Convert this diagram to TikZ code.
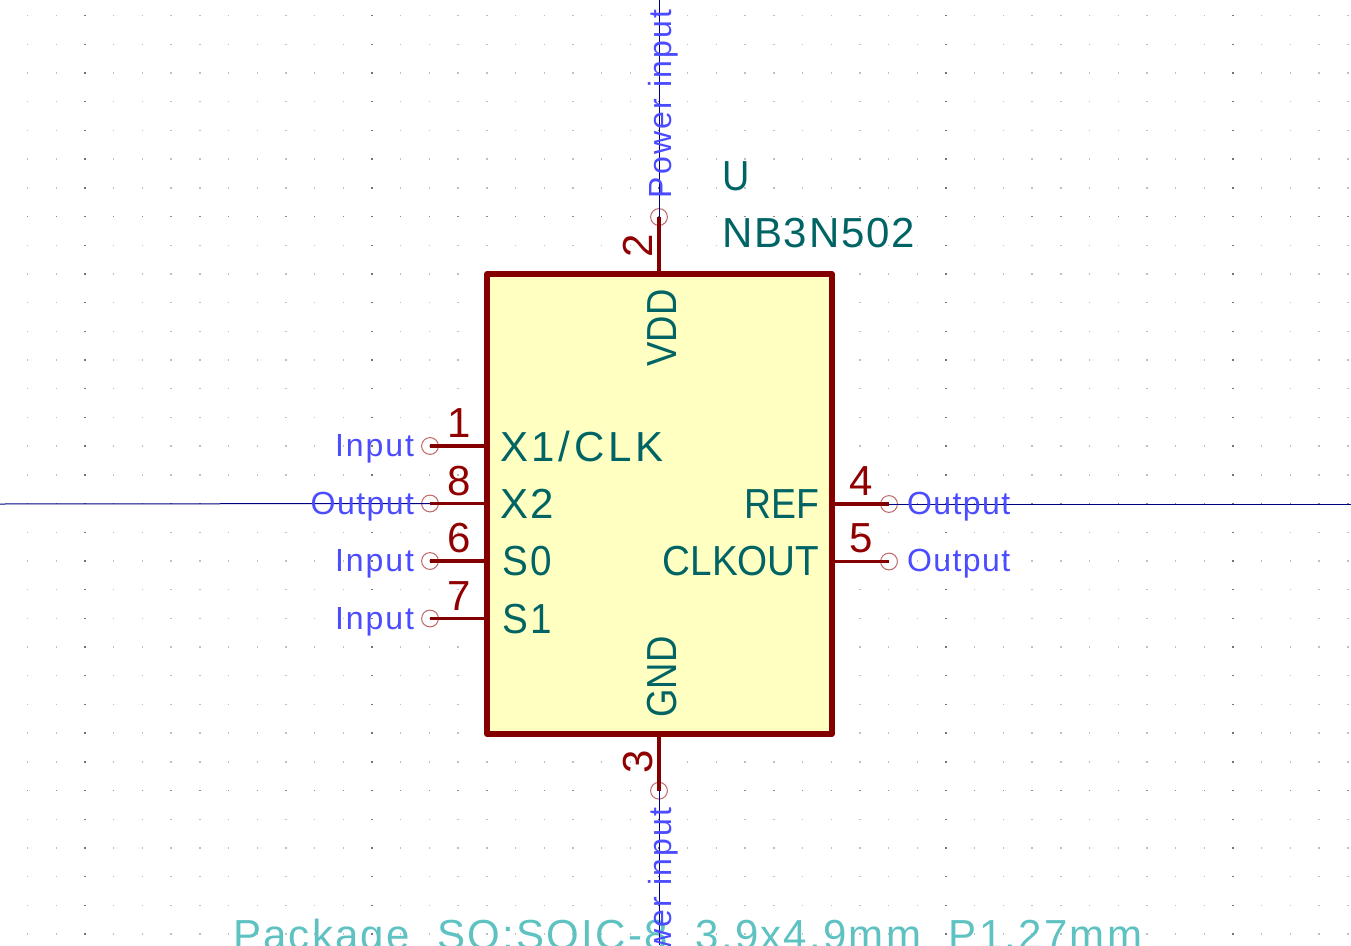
\documentclass[tikz,border=0pt]{standalone}
\usepackage{fontspec}
\setmainfont{Liberation Sans}
\newcommand{\ls}[1]{\addfontfeature{LetterSpace=#1}}
\newcommand{\sls}[2]{\addfontfeature{FakeStretch=#1,LetterSpace=#2}}
\definecolor{pinred}{HTML}{900000}
\definecolor{bodyred}{HTML}{840000}
\definecolor{bodyfill}{HTML}{FFFFC2}
\definecolor{teal}{HTML}{006464}
\definecolor{fptext}{HTML}{5FC2C2}
\definecolor{typeblue}{HTML}{4B4BFF}
\definecolor{wireblue}{HTML}{000084}
\definecolor{endred}{HTML}{C06868}
\tikzset{
  txt/.style={inner sep=0pt,outer sep=0pt},
  pinname/.style={txt,text=teal,font=\fontsize{31.5pt}{36pt}\selectfont},
  pinnum/.style={txt,text=pinred,font=\fontsize{31.5pt}{36pt}\selectfont},
  pintype/.style={txt,text=typeblue,font=\fontsize{24pt}{28pt}\selectfont},
  fpname/.style={txt,text=fptext,font=\fontsize{31.5pt}{36pt}\selectfont},
  chipbody/.style={draw=bodyred,fill=bodyfill,line width=4.2pt,line join=round,
    minimum width=258.75pt,minimum height=345pt,inner sep=0pt},
  pinline/.style={draw=bodyred,line width=2.3pt},
  wire/.style={draw=wireblue,line width=0.75pt},
  pinend/.style={circle,draw=endred,line width=0.75pt,minimum size=12.6pt,inner sep=0pt,fill=none},
}
\begin{document}
\begin{tikzpicture}[x=0.75pt,y=-0.75pt]
\clip (0,0) rectangle (1351,945);
\fill[white] (0,0) rectangle (1351,945);
% grid
\foreach \i in {0,...,46}{
  \foreach \j in {0,...,32}{
    \pgfmathsetmacro{\gx}{27.6+28.7*\i}
    \pgfmathsetmacro{\gy}{15.6+28.7*\j}
    \pgfmathtruncatemacro{\cdark}{mod(\i+8,10)==0}
    \pgfmathtruncatemacro{\rdark}{mod(\j+3,10)==0}
    \ifnum\cdark=1
      \fill[black!55] (\gx-1,\gy-0.7) rectangle (\gx+1,\gy+0.7);
    \else
      \ifnum\rdark=1
        \fill[black!45] (\gx-0.7,\gy-0.7) rectangle (\gx+0.7,\gy+0.7);
      \else
        \fill[black!25] (\gx-0.7,\gy-0.7) rectangle (\gx+0.7,\gy+0.7);
      \fi
    \fi
  }
}
% anchors
\coordinate (wl) at (0,504);
\coordinate (wr) at (1351,504);
\coordinate (wt) at (659,0);
\coordinate (wb) at (659,945);
\node[pinend] (p1) at (430,446) {};
\node[pinend] (p8) at (430,503.5) {};
\node[pinend] (p6) at (430,561) {};
\node[pinend] (p7) at (430,618.5) {};
\node[pinend] (p4) at (889,504) {};
\node[pinend] (p5) at (889,561.5) {};
\node[pinend] (p2) at (659,217) {};
\node[pinend] (p3) at (659,790.7) {};
% footprint text
\node[fpname,anchor=base west] (fp) at (233,949) {\ls{5.3}Package\_SO:SOIC-8\_3.9x4.9mm\_P1.27mm};
% wires
\draw[wire] (wl) -- (p8.center);
\draw[wire] (p4.center) -- (wr);
\draw[wire] (wt) -- (p2.center);
\draw[wire] (p3.center) -- (wb);
% chip
\node[chipbody] (chip) at (659.5,504) {};
\draw[pinline] (p1.center) -- (p1.center -| chip.west);
\draw[pinline] (p8.center) -- (p8.center -| chip.west);
\draw[pinline] (p6.center) -- (p6.center -| chip.west);
\draw[pinline] (p7.center) -- (p7.center -| chip.west);
\draw[pinline] (p4.center) -- (p4.center -| chip.east);
\draw[pinline] (p5.center) -- (p5.center -| chip.east);
\draw[pinline] (p2.center) -- (p2.center |- chip.north);
\draw[pinline] (p3.center) -- (p3.center |- chip.south);
% ref / value
\node[pinname,anchor=base west] (ref) at (722,190) {\sls{0.9}{0}U};
\node[pinname,anchor=base west] (val) at (722,247.5) {\ls{4.3}NB3N502};
% pin names
\node[pinname,anchor=base west] (nx1) at (500,461) {\ls{9}X1/CLK};
\node[pinname,anchor=base west] (nx2) at (500,518) {\ls{6}X2};
\node[pinname,anchor=base west] (ns0) at (502,575.5) {\sls{0.92}{6}S0};
\node[pinname,anchor=base west] (ns1) at (502,633) {\sls{0.92}{6}S1};
\node[pinname,anchor=base east] (nref) at (819.5,518) {\sls{0.89}{0}REF};
\node[pinname,anchor=base east] (nclk) at (819.5,575.5) {\sls{0.92}{0}CLKOUT};
\node[pinname,anchor=base west,rotate=90] (nvdd) at (676,366.5) {\sls{0.87}{0}VDD};
\node[pinname,anchor=base west,rotate=90] (ngnd) at (676,717.5) {\sls{0.87}{0}GND};
% pin numbers
\node[pinnum,anchor=base] (n1) at (459,437.7) {1};
\node[pinnum,anchor=base] (n8) at (459,495) {8};
\node[pinnum,anchor=base] (n6) at (459,552.5) {6};
\node[pinnum,anchor=base] (n7) at (459,610) {7};
\node[pinnum,anchor=base] (n4) at (861.5,495) {4};
\node[pinnum,anchor=base] (n5) at (861.5,552.5) {5};
\node[pinnum,anchor=base,rotate=90] (n2) at (652.3,245.5) {2};
\node[pinnum,anchor=base,rotate=90] (n3) at (652.5,762) {3};
% pin types
\node[pintype,anchor=base east] (t1) at (414,456.7) {\ls{6}Input};
\node[pintype,anchor=base east] (t8) at (414,514) {\ls{4.5}Output};
\node[pintype,anchor=base east] (t6) at (414,571.7) {\ls{6}Input};
\node[pintype,anchor=base east] (t7) at (414,629) {\ls{6}Input};
\node[pintype,anchor=base west] (t4) at (907,514) {\ls{4.5}Output};
\node[pintype,anchor=base west] (t5) at (907,571.7) {\ls{4.5}Output};
\node[pintype,anchor=base west,rotate=90] (t2) at (671,198) {\ls{6.7}Power input};
\node[pintype,anchor=base west,rotate=90] (t3) at (671,996) {\ls{6.7}Power input};
\end{tikzpicture}
\end{document}
